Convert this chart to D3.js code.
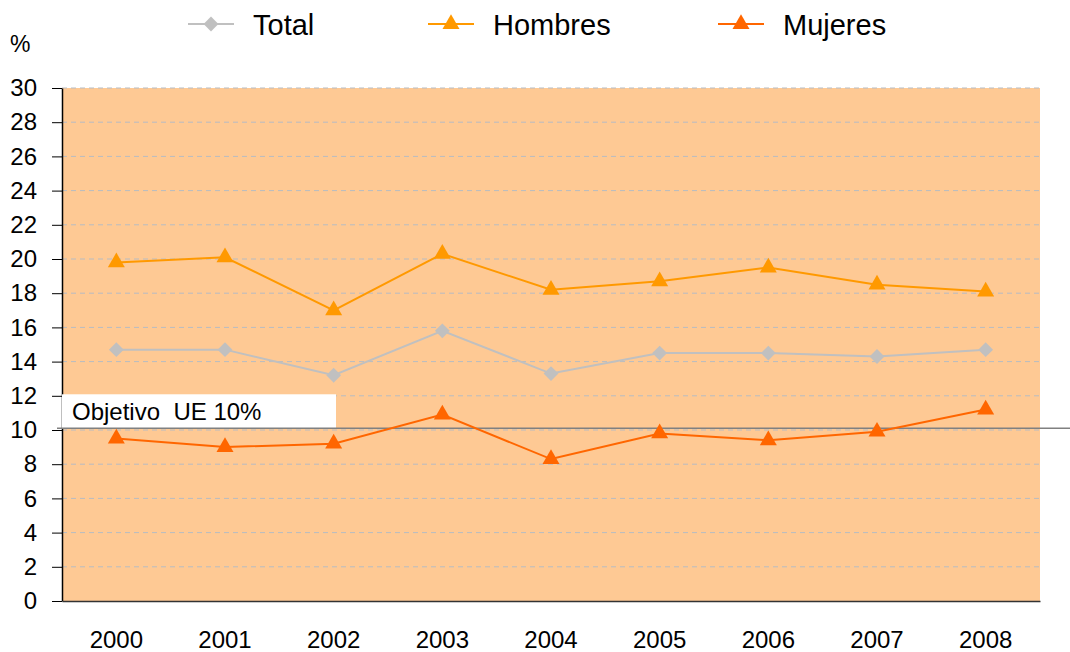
<!DOCTYPE html>
<html>
<head>
<meta charset="utf-8">
<script src="https://d3js.org/d3.v7.min.js"></script>
<style>
  body { margin: 0; background: #fff; }
  text { font-family: "Liberation Sans", Arial, sans-serif; fill: #000; }
</style>
</head>
<body>
<svg width="1070" height="652"></svg>
<script>
// data
const years = ["2000", "2001", "2002", "2003", "2004", "2005", "2006", "2007", "2008"];
const total = [14.7, 14.7, 13.2, 15.8, 13.3, 14.5, 14.5, 14.3, 14.7];
const hombres = [19.8, 20.1, 17.0, 20.3, 18.2, 18.7, 19.5, 18.5, 18.1];
const mujeres = [9.5, 9.0, 9.2, 10.9, 8.3, 9.8, 9.4, 9.9, 11.2];
const yTicks = d3.range(0, 31, 2);
const goal = 10.1;

const series = [
  { name: "Total", values: total, color: "#c0c0c0", symbol: d3.symbolSquare, size: 110, rot: 45 },
  { name: "Hombres", values: hombres, color: "#ff9900", symbol: d3.symbolTriangle, size: 125, rot: 0 },
  { name: "Mujeres", values: mujeres, color: "#ff6600", symbol: d3.symbolTriangle, size: 125, rot: 0 }
];

const margin = { left: 62, right: 30, top: 88, bottom: 51 };
const width = 1070, height = 652;
const svg = d3.select('svg');

const x = d3.scaleBand()
  .domain(years)
  .range([margin.left, width - margin.right]);
const y = d3.scaleLinear()
  .domain([0, 30])
  .range([height - margin.bottom, margin.top]);

// plot background
svg.append('rect')
  .attr('x', margin.left)
  .attr('y', y(30))
  .attr('width', x.range()[1] - margin.left)
  .attr('height', y(0) - y(30))
  .style('fill', '#fec994');

// dashed grid
svg.append('g')
  .selectAll('line')
  .data(yTicks.filter(d => d > 0))
  .enter().append('line')
  .attr('x1', margin.left)
  .attr('x2', x.range()[1])
  .attr('y1', d => y(d))
  .attr('y2', d => y(d))
  .style('stroke', '#b7bcc2')
  .style('stroke-width', 1)
  .style('stroke-dasharray', '5,4');

// y axis
const yAxis = svg.append('g')
  .attr('transform', `translate(${margin.left},0)`)
  .call(d3.axisLeft(y).tickValues(yTicks).tickSize(10).tickPadding(15).tickSizeOuter(0));
yAxis.select('.domain').style('stroke', '#000').style('stroke-width', 1.5);
yAxis.selectAll('.tick line').style('stroke', '#000');
yAxis.selectAll('text').style('font-size', '24px').style('font-family', '"Liberation Sans", Arial, sans-serif');

// x axis
const xAxis = svg.append('g')
  .attr('transform', `translate(0,${y(0)})`)
  .call(d3.axisBottom(x).tickSize(0).tickPadding(30));
xAxis.select('.domain').style('stroke', '#333').style('stroke-width', 1.5);
xAxis.selectAll('text').style('font-size', '24px').style('font-family', '"Liberation Sans", Arial, sans-serif');

svg.append('text')
  .attr('x', 10)
  .attr('y', 52)
  .style('font-size', '23px')
  .text('%');

// goal label and line
svg.append('rect')
  .attr('x', margin.left)
  .attr('y', y(goal) - 34)
  .attr('width', 274)
  .attr('height', 34)
  .style('fill', '#fff');
svg.append('text')
  .attr('x', 72)
  .attr('y', y(goal) - 8)
  .style('font-size', '24px')
  .style('white-space', 'pre')
  .text('Objetivo  UE 10%');
svg.append('line')
  .attr('x1', 57)
  .attr('x2', width)
  .attr('y1', y(goal))
  .attr('y2', y(goal))
  .style('stroke', '#808080')
  .style('stroke-width', 1.5);

// series
const line = d3.line()
  .x((d, i) => x(years[i]) + x.bandwidth() / 2)
  .y(d => y(d));

series.forEach(s => {
  svg.append('path')
    .datum(s.values)
    .attr('d', line)
    .style('fill', 'none')
    .style('stroke', s.color)
    .style('stroke-width', 2);
  svg.append('g')
    .selectAll('path')
    .data(s.values)
    .enter().append('path')
    .attr('d', d3.symbol().type(s.symbol).size(s.size))
    .attr('transform', (d, i) => `translate(${x(years[i]) + x.bandwidth() / 2},${y(d)}) rotate(${s.rot})`)
    .style('fill', s.color);
});

// legend
const legendX = [188, 428, 718];
const legend = svg.append('g')
  .selectAll('g')
  .data(series)
  .enter().append('g')
  .attr('transform', (d, i) => `translate(${legendX[i]},24)`);
legend.append('line')
  .attr('x1', 0).attr('x2', 46)
  .style('stroke', d => d.color)
  .style('stroke-width', 2);
legend.append('path')
  .attr('d', d => d3.symbol().type(d.symbol).size(d.size).call())
  .attr('transform', d => `translate(23,0) rotate(${d.rot})`)
  .style('fill', d => d.color);
legend.append('text')
  .attr('x', 65)
  .attr('y', 11)
  .style('font-size', '29px')
  .text(d => d.name);
</script>
</body>
</html>
